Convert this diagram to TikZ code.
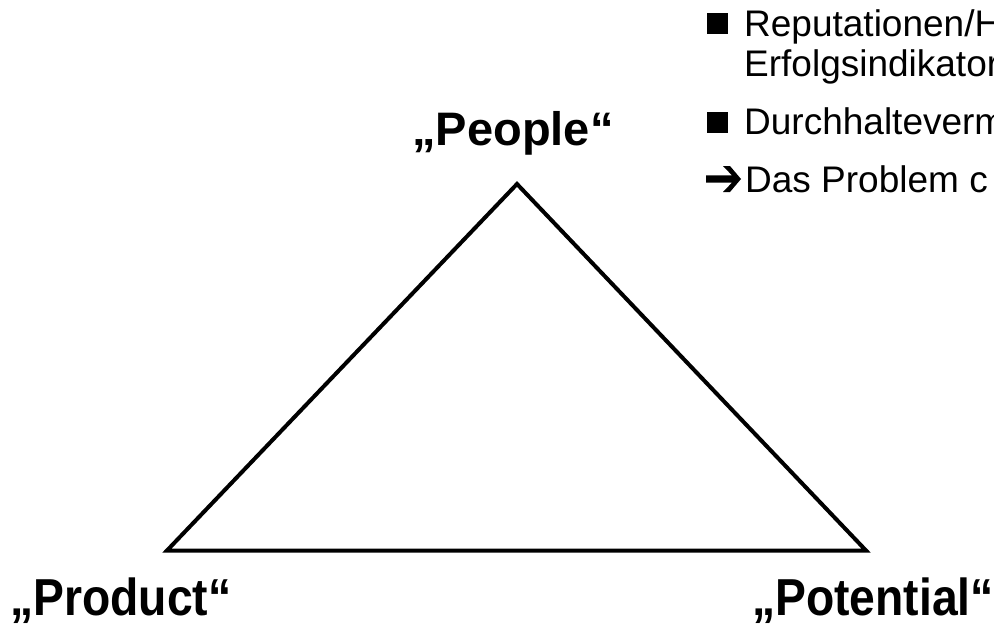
\documentclass[tikz,border=0pt]{standalone}
\usepackage{fontspec}
\setmainfont{Liberation Sans}
\usetikzlibrary{calc}
\begin{document}
\begin{tikzpicture}[x=1pt,y=-1pt,
  tri/.style={line width=4pt,line join=miter,black},
  biglabel/.style={inner sep=0pt,font=\fontsize{47}{56}\selectfont\bfseries},
  bottomlabel/.style={inner sep=0pt,font=\fontsize{52}{60}\selectfont\bfseries},
  bodytext/.style={inner sep=0pt,anchor=base west,font=\fontsize{37}{44}\selectfont},
  bulletsq/.style={fill=black,inner sep=0pt,minimum size=21pt},
  arrowshape/.style={fill=black,draw=none}]
\clip (0,0) rectangle (994,624);
\useasboundingbox (0,0) rectangle (994,624);
% triangle
\coordinate (apex) at (517,184);
\coordinate (bl) at (167,550.5);
\coordinate (br) at (866,550.5);
\draw[tri] (apex) -- (bl) -- (br) -- cycle;
% vertex labels
\node[biglabel,anchor=base] (people) at (513,145) {„People“};
\node[bottomlabel,anchor=base west] (product) at (10,615) {\scalebox{0.89}[1]{„Product“}};
\node[bottomlabel,anchor=base east] (potential) at (994,615) {\scalebox{0.89}[1]{„Potential“}};
% bullet list
\node[bulletsq,anchor=north west] (b1) at (707,13) {};
\node[bodytext] (t1) at (744,36) {Reputationen/H};
\node[bodytext] (t2) at (744,76) {Erfolgsindikator};
\node[bulletsq,anchor=north west] (b2) at (707,112) {};
\node[bodytext] (t3) at (744,134) {Durchhalteverm};
\coordinate (arrtail) at (706,179);
\coordinate (arrtip) at (741,179);
\fill[arrowshape] (arrtail) ++(0,-3.6) -- (732,175.4) -- (723,166) -- (730,166)
  -- (arrtip) -- (730,192) -- (723,192) -- (732,182.6) -- (706,182.6) -- cycle;
\node[bodytext] (t4) at (745,192) {Das Problem c};
\end{tikzpicture}
\end{document}
